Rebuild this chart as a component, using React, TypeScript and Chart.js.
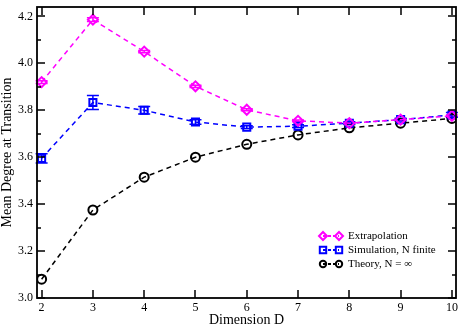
import React, { useEffect, useRef } from "react";
import { Chart, registerables } from "chart.js";
Chart.register(...registerables);

const dims = [2, 3, 4, 5, 6, 7, 8, 9, 10];
const extrapolation = [3.92, 4.186, 4.05, 3.902, 3.802, 3.755, 3.745, 3.76, 3.776];
const extrapolationErr = [0.006, 0.008, 0.005, 0.005, 0.004, 0.004, 0.004, 0.004, 0.004];
const simulation = [3.595, 3.833, 3.80, 3.75, 3.728, 3.732, 3.745, 3.76, 3.78];
const simulationErr = [0.02, 0.03, 0.016, 0.01, 0.006, 0.006, 0.006, 0.006, 0.01];
const theory = [3.08, 3.375, 3.515, 3.6, 3.655, 3.695, 3.725, 3.745, 3.765];
const yTickValues = [3.0, 3.2, 3.4, 3.6, 3.8, 4.0, 4.2];
const legendLabels = ["Extrapolation", "Simulation, N finite", "Theory, N = \u221e"];
const colors = ["#ff00ff", "#0000ff", "#000000"];
const shapes = ["rectRot", "rect", "circle"];

const FONT = "'Liberation Serif', 'Times New Roman', serif";

function drawMarker(ctx: CanvasRenderingContext2D, shape: string, x: number, y: number, r: number) {
  ctx.beginPath();
  if (shape === "rectRot") {
    ctx.moveTo(x, y - r);
    ctx.lineTo(x + r, y);
    ctx.lineTo(x, y + r);
    ctx.lineTo(x - r, y);
    ctx.closePath();
  } else if (shape === "rect") {
    const s = r * 0.8;
    ctx.rect(x - s, y - s, 2 * s, 2 * s);
  } else {
    ctx.arc(x, y, r * 0.8, 0, Math.PI * 2);
  }
  ctx.stroke();
}

const framePlugin = {
  id: "frame",
  beforeDatasetsDraw(chart: any) {
    const { ctx, scales } = chart;
    const xs = scales.x, ys = scales.y;
    const errs = [extrapolationErr, simulationErr];
    const vals = [extrapolation, simulation];
    ctx.save();
    for (let s = 0; s < 2; s++) {
      ctx.strokeStyle = colors[s];
      ctx.lineWidth = 1.5;
      for (let i = 0; i < dims.length; i++) {
        const px = xs.getPixelForValue(dims[i]);
        const y1 = ys.getPixelForValue(vals[s][i] + errs[s][i]);
        const y2 = ys.getPixelForValue(vals[s][i] - errs[s][i]);
        ctx.beginPath();
        ctx.moveTo(px, y1); ctx.lineTo(px, y2);
        ctx.moveTo(px - 6, y1); ctx.lineTo(px + 6, y1);
        ctx.moveTo(px - 6, y2); ctx.lineTo(px + 6, y2);
        ctx.stroke();
      }
    }
    ctx.restore();
  },
  afterDraw(chart: any) {
    const { ctx, chartArea: a, scales } = chart;
    const xs = scales.x, ys = scales.y;
    ctx.save();
    ctx.strokeStyle = "#000";
    ctx.lineWidth = 1.8;
    ctx.strokeRect(a.left, a.top, a.right - a.left, a.bottom - a.top);
    ctx.lineWidth = 1.5;
    ctx.beginPath();
    for (const d of dims) {
      const px = Math.round(xs.getPixelForValue(d));
      ctx.moveTo(px, a.bottom); ctx.lineTo(px, a.bottom - 8);
      ctx.moveTo(px, a.top); ctx.lineTo(px, a.top + 8);
    }
    for (let k = 0; k <= 12; k++) {
      const v = 3.0 + k * 0.1;
      const py = Math.round(ys.getPixelForValue(v));
      const len = k % 2 === 0 ? 8 : 4;
      ctx.moveTo(a.left, py); ctx.lineTo(a.left + len, py);
      ctx.moveTo(a.right, py); ctx.lineTo(a.right - len, py);
    }
    ctx.stroke();

    const rowY = [236, 250, 264];
    ctx.font = `11px ${FONT}`;
    ctx.textBaseline = "middle";
    ctx.textAlign = "left";
    for (let i = 0; i < 3; i++) {
      ctx.strokeStyle = colors[i];
      ctx.lineWidth = 2;
      ctx.setLineDash([3, 2]);
      ctx.beginPath();
      ctx.moveTo(323, rowY[i]); ctx.lineTo(339, rowY[i]);
      ctx.stroke();
      ctx.setLineDash([]);
      drawMarker(ctx, shapes[i], 323, rowY[i], 4);
      drawMarker(ctx, shapes[i], 339, rowY[i], 4);
      ctx.fillStyle = "#000";
      ctx.fillText(legendLabels[i], 348, rowY[i] + 0.5);
    }
    ctx.restore();
  },
};

export default function App() {
  const ref = useRef<HTMLCanvasElement>(null);
  useEffect(() => {
    if (!ref.current) return;
    const mk = (label: string, data: number[], i: number) => ({
      label,
      data: dims.map((d, k) => ({ x: d, y: data[k] })),
      borderColor: colors[i],
      backgroundColor: "rgba(0,0,0,0)",
      borderWidth: 1.5,
      borderDash: [5, 4],
      pointStyle: shapes[i],
      pointRadius: i === 2 ? 4.5 : 5,
      pointBorderWidth: 2,
      pointBorderColor: colors[i],
      pointBackgroundColor: "rgba(0,0,0,0)",
      showLine: true,
      fill: false,
    });
    const chart = new Chart(ref.current, {
      type: "scatter",
      data: {
        datasets: [
          mk(legendLabels[0], extrapolation, 0),
          mk(legendLabels[1], simulation, 1),
          mk(legendLabels[2], theory, 2),
        ] as any,
      },
      options: {
        animation: false,
        responsive: false,
        layout: { padding: { top: 2, right: 3, left: 0, bottom: 0 } },
        plugins: { legend: { display: false }, tooltip: { enabled: false } },
        scales: {
          x: {
            type: "linear",
            min: 1.91,
            max: 10.08,
            grid: { display: false, drawTicks: false, tickLength: 0 },
            border: { display: false },
            afterBuildTicks: (s: any) => { s.ticks = dims.map((v) => ({ value: v })); },
            afterFit: (s: any) => { s.height = 29; s.paddingLeft = 0; s.paddingRight = 0; },
            ticks: { font: { family: FONT, size: 12 }, color: "#000", padding: 3, maxRotation: 0 },
            title: { display: true, text: "Dimension D", font: { family: FONT, size: 14, lineHeight: 1 }, color: "#000", padding: 0 },
          },
          y: {
            min: 3.0,
            max: 4.24,
            grid: { display: false, drawTicks: false, tickLength: 0 },
            border: { display: false },
            afterBuildTicks: (s: any) => { s.ticks = yTickValues.map((v) => ({ value: v })); },
            afterFit: (s: any) => { s.width = 37; s.paddingTop = 0; s.paddingBottom = 0; },
            ticks: { font: { family: FONT, size: 12 }, color: "#000", padding: 4, callback: (v: any) => Number(v).toFixed(1) },
            title: { display: true, text: "Mean Degree at Transition", font: { family: FONT, size: 14, lineHeight: 1 }, color: "#000", padding: 0 },
          },
        },
      },
      plugins: [framePlugin],
    });
    return () => chart.destroy();
  }, []);
  return (
    <div style={{ position: "fixed", left: 0, top: 0, width: 463, height: 327, background: "#fff" }}>
      <canvas ref={ref} width={463} height={327} style={{ width: 463, height: 327 }} />
    </div>
  );
}
